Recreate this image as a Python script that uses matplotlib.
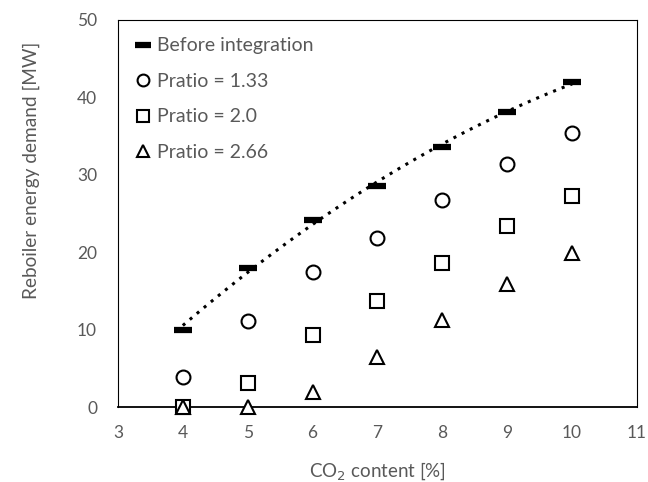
import numpy as np
import matplotlib
matplotlib.use("Agg")
import matplotlib.pyplot as plt

plt.rcParams['font.family'] = ['Lato', 'DejaVu Sans']

co2 = [4, 5, 6, 7, 8, 9, 10]
before = [10.0, 18.0, 24.2, 28.6, 33.6, 38.1, 42.0]
pratio_133 = [3.9, 11.1, 17.4, 21.8, 26.7, 31.4, 35.4]
pratio_20 = [0.0, 3.1, 9.3, 13.7, 18.6, 23.4, 27.3]
pratio_266 = [0.0, 0.0, 1.9, 6.5, 11.2, 15.9, 19.9]

grey = '#595959'

fig = plt.figure(figsize=(6.48, 4.82), dpi=100)
ax = fig.add_axes([0.182, 0.1556, 0.801, 0.803])

# trendline through the "before" points
coef = np.polyfit(co2, before, 2)
xs = np.linspace(co2[0], co2[-1], 100)
ax.plot(xs, np.polyval(coef, xs), ls=(0, (1, 2)), color='black', lw=2.2, zorder=2)

ax.plot(co2, before, ls='none', marker='_', ms=13, mew=4.5, color='black',
        label='Before integration', zorder=3, clip_on=False)
ax.plot(co2, pratio_133, ls='none', marker='o', ms=10, mfc='white', mec='black', mew=1.5,
        label='Pratio = 1.33', zorder=3, clip_on=False)
ax.plot(co2, pratio_20, ls='none', marker='s', ms=10, mfc='white', mec='black', mew=1.5,
        label='Pratio = 2.0', zorder=3, clip_on=False)
ax.plot(co2, pratio_266, ls='none', marker='^', ms=10, mfc='white', mec='black', mew=1.5,
        label='Pratio = 2.66', zorder=3, clip_on=False)

ax.set_xlim(3, 11)
ax.set_ylim(0, 50)
ax.set_xticks(range(3, 12))
ax.set_yticks(range(0, 51, 10))
ax.tick_params(length=0, labelsize=12.5, labelcolor=grey)
ax.tick_params(axis='y', pad=15)
ax.tick_params(axis='x', pad=13)

for s in ['left', 'top', 'right']:
    ax.spines[s].set_linewidth(0.8)
    ax.spines[s].set_color('black')
ax.spines['bottom'].set_linewidth(1.3)
ax.spines['bottom'].set_zorder(1)

ax.set_xlabel('CO$_2$ content [%]', fontsize=13.5, color=grey, labelpad=14)
ax.set_ylabel('Reboiler energy demand [MW]', fontsize=13.7, color=grey)
ax.yaxis.set_label_coords(-0.15, 0.612)

leg = ax.legend(loc='upper left', frameon=False, fontsize=14, labelcolor=grey,
                handlelength=0.8, handletextpad=0.3, labelspacing=0.95,
                borderaxespad=0.5, markerscale=0.85)

fig.savefig('out.png', dpi=100)
